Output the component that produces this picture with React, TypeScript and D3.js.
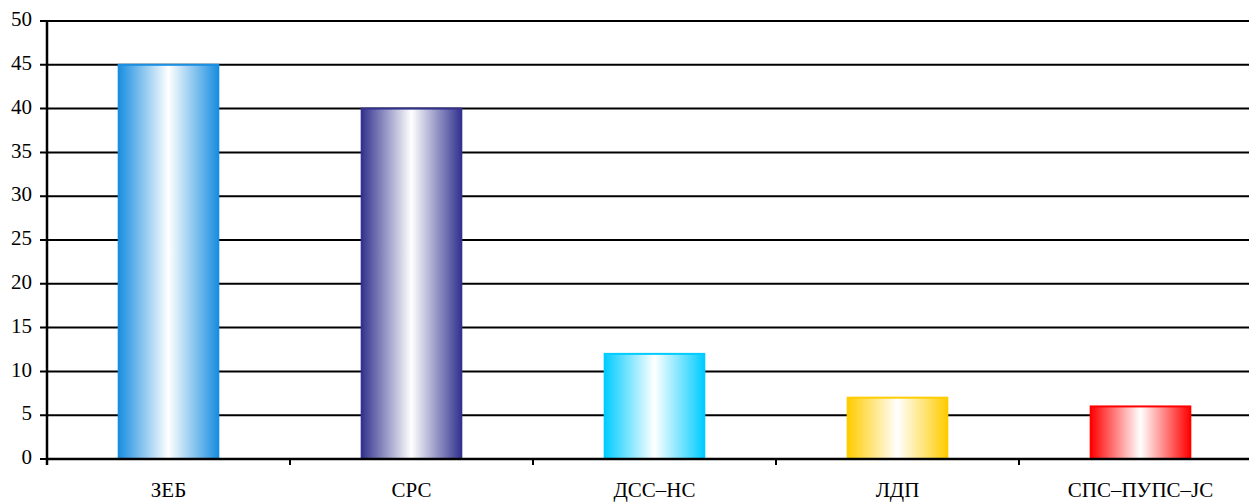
import React from "react";
import * as d3 from "d3";

const categories = ["ЗЕБ", "СРС", "ДСС–НС", "ЛДП", "СПС–ПУПС–ЈС"];
const values = [45, 40, 12, 7, 6];
const colors = ["#1a8ee0", "#33338f", "#00ccff", "#ffcc00", "#ff0000"];
const yTicks = [0, 5, 10, 15, 20, 25, 30, 35, 40, 45, 50];

const W = 1249;
const H = 502;
const left = 47;
const top = 21;
const bottom = 459;
const bandRight = 1262;

export default function App() {
  const x = d3.scaleBand<string>().domain(categories).range([left, bandRight]).paddingInner(0.59).paddingOuter(0.295);
  const xb = d3.scaleBand<string>().domain(categories).range([left, bandRight]);
  const y = d3.scaleLinear().domain([0, 50]).range([bottom, top]);
  const font = "'Liberation Serif', 'Times New Roman', serif";
  return (
    <svg width={W} height={H} style={{ position: "absolute", left: 0, top: 0, background: "#fff" }}>
      <defs>
        {colors.map((c, i) => (
          <linearGradient key={i} id={`g${i}`} x1="0" x2="1" y1="0" y2="0">
            <stop offset="0%" stopColor={c} />
            <stop offset="50%" stopColor="#ffffff" />
            <stop offset="100%" stopColor={c} />
          </linearGradient>
        ))}
      </defs>
      {yTicks.map((t) => (
        <g key={t}>
          <line x1={40} x2={W} y1={y(t)} y2={y(t)} stroke="#000" strokeWidth={2} />
          <text x={32} y={y(t)} dy="0.25em" textAnchor="end" fontFamily={font} fontSize={21}>{t}</text>
        </g>
      ))}
      {categories.map((c, i) => (
        <rect key={c} x={x(c)} y={y(values[i])} width={x.bandwidth()} height={bottom - y(values[i])}
          fill={`url(#g${i})`} stroke={colors[i]} strokeWidth={2} />
      ))}
      <line x1={left} x2={left} y1={top} y2={bottom + 6} stroke="#000" strokeWidth={2.5} />
      <line x1={left} x2={W} y1={bottom} y2={bottom} stroke="#000" strokeWidth={2.5} />
      {categories.slice(1).map((c) => (
        <line key={c} x1={xb(c)} x2={xb(c)} y1={bottom} y2={bottom + 6} stroke="#000" strokeWidth={2} />
      ))}
      {categories.map((c) => (
        <text key={c} x={(xb(c) as number) + xb.bandwidth() / 2} y={497} textAnchor="middle" fontFamily={font} fontSize={21}>{c}</text>
      ))}
    </svg>
  );
}
